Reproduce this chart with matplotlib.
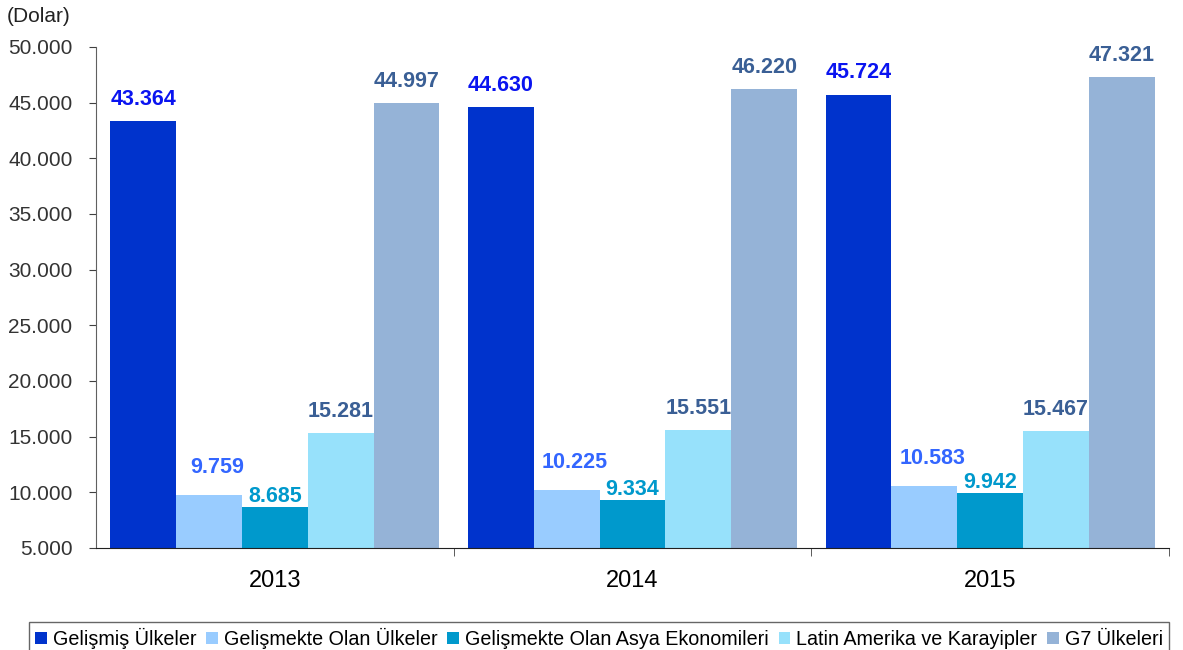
import numpy as np
import matplotlib
matplotlib.use("Agg")
from matplotlib import pyplot as plt
from matplotlib.ticker import FuncFormatter

plt.rcParams['font.family'] = ['Liberation Sans', 'DejaVu Sans']

years = ['2013', '2014', '2015']
series = [
    'Gelişmiş Ülkeler',
    'Gelişmekte Olan Ülkeler',
    'Gelişmekte Olan Asya Ekonomileri',
    'Latin Amerika ve Karayipler',
    'G7 Ülkeleri',
]
gelismis = [43364, 44630, 45724]
gelismekte = [9759, 10225, 10583]
asya = [8685, 9334, 9942]
latin = [15281, 15551, 15467]
g7 = [44997, 46220, 47321]
values = [gelismis, gelismekte, asya, latin, g7]

bar_colors = ['#0033CC', '#99CCFF', '#0099CC', '#97E1FB', '#95B3D7']
label_colors = ['#0A14F0', '#3366FF', '#0099CC', '#3A5F95', '#3A5F95']
# label offsets (points) - Excel nudges overlapping labels
label_offsets = [(0, 8), (6, 12), (0, 0), (0, 8), (0, 8)]


def fmt_tr(v, pos=None):
    return '{:,.0f}'.format(v).replace(',', '.')


fig = plt.figure(figsize=(11.83, 6.5), dpi=100)
ax = fig.add_axes([0.0812, 0.157, 0.9070, 0.7707])

width = 0.184
x = np.arange(len(years))
for i, (name, vals) in enumerate(zip(series, values)):
    pos = x + (i - 2) * width
    bars = ax.bar(pos, vals, width=width, bottom=0, color=bar_colors[i],
                  label=name, zorder=2)
    for b, v in zip(bars, vals):
        ax.annotate(fmt_tr(v), (b.get_x() + b.get_width() / 2, v),
                    xytext=label_offsets[i], textcoords='offset points',
                    ha='center', va='bottom', fontsize=15.5,
                    fontweight='bold', color=label_colors[i])

ax.set_ylim(5000, 50000)
ax.set_xlim(-0.5, 2.5)
ax.set_yticks(np.arange(5000, 50001, 5000))
ax.yaxis.set_major_formatter(FuncFormatter(fmt_tr))
ax.tick_params(axis='y', labelsize=15, length=5, pad=12, color='#404040',
               labelcolor='#333333', direction='out')

ax.set_xticks(x)
ax.set_xticklabels(years)
ax.set_xticks([0.5, 1.5, 2.5], minor=True)
ax.tick_params(axis='x', which='major', length=0, pad=16, labelsize=17)
ax.tick_params(axis='x', which='minor', length=6, color='#404040',
               direction='out')

for s in ['top', 'right']:
    ax.spines[s].set_visible(False)
ax.spines['left'].set_color('#606060')
ax.spines['bottom'].set_color('#202020')

fig.text(0.006, 0.974, '(Dolar)', fontsize=15, color='#222222',
         ha='left', va='center')

leg = fig.legend(loc='upper left', bbox_to_anchor=(0.0245, 0.043),
                 ncol=5, fontsize=14.2, frameon=True, fancybox=False,
                 handlelength=0.6, handleheight=0.6, handletextpad=0.3,
                 columnspacing=0.5, borderpad=0.3, borderaxespad=0)
leg.get_frame().set_edgecolor('#404040')
leg.get_frame().set_linewidth(1)

fig.savefig('out.png', dpi=100)
